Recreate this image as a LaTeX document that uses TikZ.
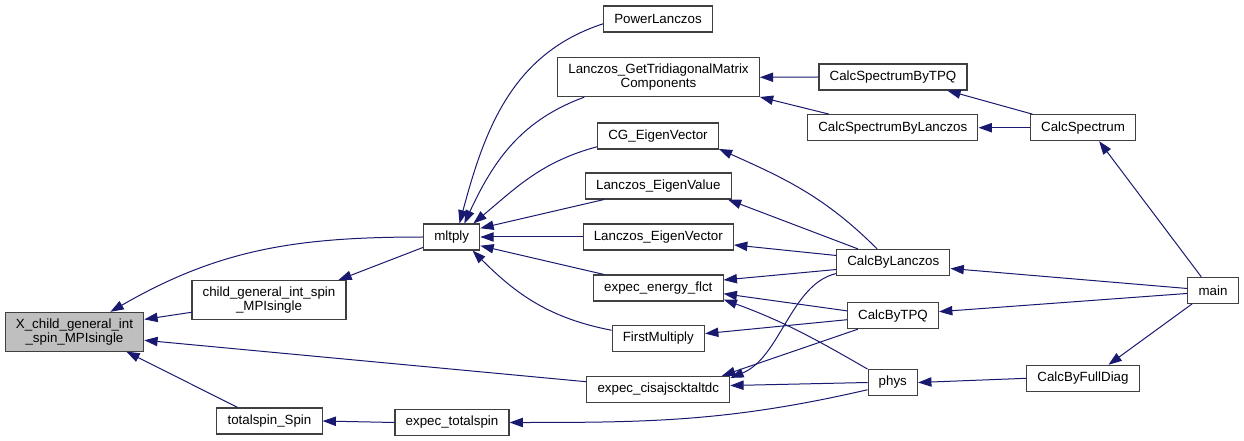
\documentclass[tikz,border=0pt]{standalone}
\usepackage{fontspec}
\setmainfont{Liberation Sans}
\usetikzlibrary{arrows.meta}
\definecolor{edgeblue}{HTML}{191970}
\definecolor{rootgray}{HTML}{BFBFBF}

\begin{document}
\begin{tikzpicture}[x=0.75pt, y=-0.75pt,
  fn/.style={draw=black!75, line width=0.8pt, fill=white, inner xsep=8pt,
             inner ysep=4.5pt, minimum height=19.5pt, align=center,
             font=\fontsize{10}{10.7}\selectfont},
  arr/.style={-{Triangle[length=10pt,width=7pt]}, edgeblue, line width=0.75pt}
]
  \useasboundingbox (0,0) rectangle (1244,441);

  % Root and first callers
  \node[fn, fill=rootgray] (xchild) at (74.5,331.7) {X\_child\_general\_int\\\_spin\_MPIsingle};
  \node[fn] (childgen) at (269,300) {child\_general\_int\_spin\\\_MPIsingle};
  \node[fn] (tspin) at (269.5,421) {totalspin\_Spin};
  \node[fn] (mltply) at (451.7,237) {mltply};
  \node[fn] (etot) at (452,422.5) {expec\_totalspin};

  % Middle column
  \node[fn] (plz) at (658,19) {PowerLanczos};
  \node[fn] (gettri) at (658.5,77.3) {Lanczos\_GetTridiagonalMatrix\\Components};
  \node[fn] (cgvec) at (658,136) {CG\_EigenVector};
  \node[fn] (leval) at (658.3,186) {Lanczos\_EigenValue};
  \node[fn] (levec) at (658.3,237) {Lanczos\_EigenVector};
  \node[fn] (eflct) at (658.3,288) {expec\_energy\_flct};
  \node[fn] (fmult) at (658.3,338.5) {FirstMultiply};
  \node[fn] (cisaj) at (658.3,389.3) {expec\_cisajscktaltdc};

  % Drivers
  \node[fn] (cstpq) at (893,77) {CalcSpectrumByTPQ};
  \node[fn] (cslz) at (892.8,127.7) {CalcSpectrumByLanczos};
  \node[fn] (cblz) at (893.3,262.5) {CalcByLanczos};
  \node[fn] (cbtpq) at (893,315.7) {CalcByTPQ};
  \node[fn] (phys) at (892.8,382.5) {phys};
  \node[fn] (cspec) at (1083,127.7) {CalcSpectrum};
  \node[fn] (cbfd) at (1083,378.3) {CalcByFullDiag};
  \node[fn] (main) at (1213,290.3) {main};

  % Calls into the root
  \draw[arr] (mltply.west) to[out=180, in=30] (xchild.29);
  \draw[arr] (childgen.189) -- (xchild.10);
  \draw[arr] (cisaj.174) -- (xchild.-7);
  \draw[arr] (tspin.157) -- (xchild.-21);
  \draw[arr] (mltply.200) -- (childgen.16);
  \draw[arr] (etot.west) -- (tspin.east);
  \draw[arr] (phys.196) to[out=193, in=0] (etot.east);

  % Calls into mltply
  \draw[arr] (plz.185) to[out=198, in=75] (mltply.60);
  \draw[arr] (gettri.195) to[out=200, in=65] (mltply.47);
  \draw[arr] (cgvec.190) to[out=195, in=40] (mltply.32);
  \draw[arr] (leval.194) -- (mltply.17);
  \draw[arr] (levec.west) -- (mltply.east);
  \draw[arr] (eflct.166) -- (mltply.-17);
  \draw[arr] (fmult.170) to[out=169, in=-45] (mltply.-33);

  % Spectrum branch
  \draw[arr] (cstpq.west) -- (gettri.east);
  \draw[arr] (cslz.168) -- (gettri.-11.5);
  \draw[arr] (cspec.165) -- (cstpq.-14);
  \draw[arr] (cspec.west) -- (cslz.east);
  \draw[arr] (main.131) -- (cspec.-40);

  % Lanczos / TPQ / full diag
  \draw[arr] (cblz.140) to[out=135, in=-24] (cgvec.-12);
  \draw[arr] (cblz.159) -- (leval.-11);
  \draw[arr] (cblz.173) -- (levec.-6);
  \draw[arr] (cblz.187) -- (eflct.7);
  \draw[arr] (cblz.191) .. controls +(-45,10) and +(50,-20) .. (cisaj.9);
  \draw[arr] (cbtpq.174) -- (eflct.-5);
  \draw[arr] (cbtpq.185) -- (fmult.6);
  \draw[arr] (cbtpq.201) -- (cisaj.12.5);
  \draw[arr] (phys.152) to[out=150, in=-20] (eflct.-10);
  \draw[arr] (phys.west) -- (cisaj.3);
  \draw[arr] (main.176) -- (cblz.-6);
  \draw[arr] (main.187) -- (cbtpq.5);
  \draw[arr] (main.213) -- (cbfd.28);
  \draw[arr] (cbfd.west) -- (phys.east);
\end{tikzpicture}
\end{document}
